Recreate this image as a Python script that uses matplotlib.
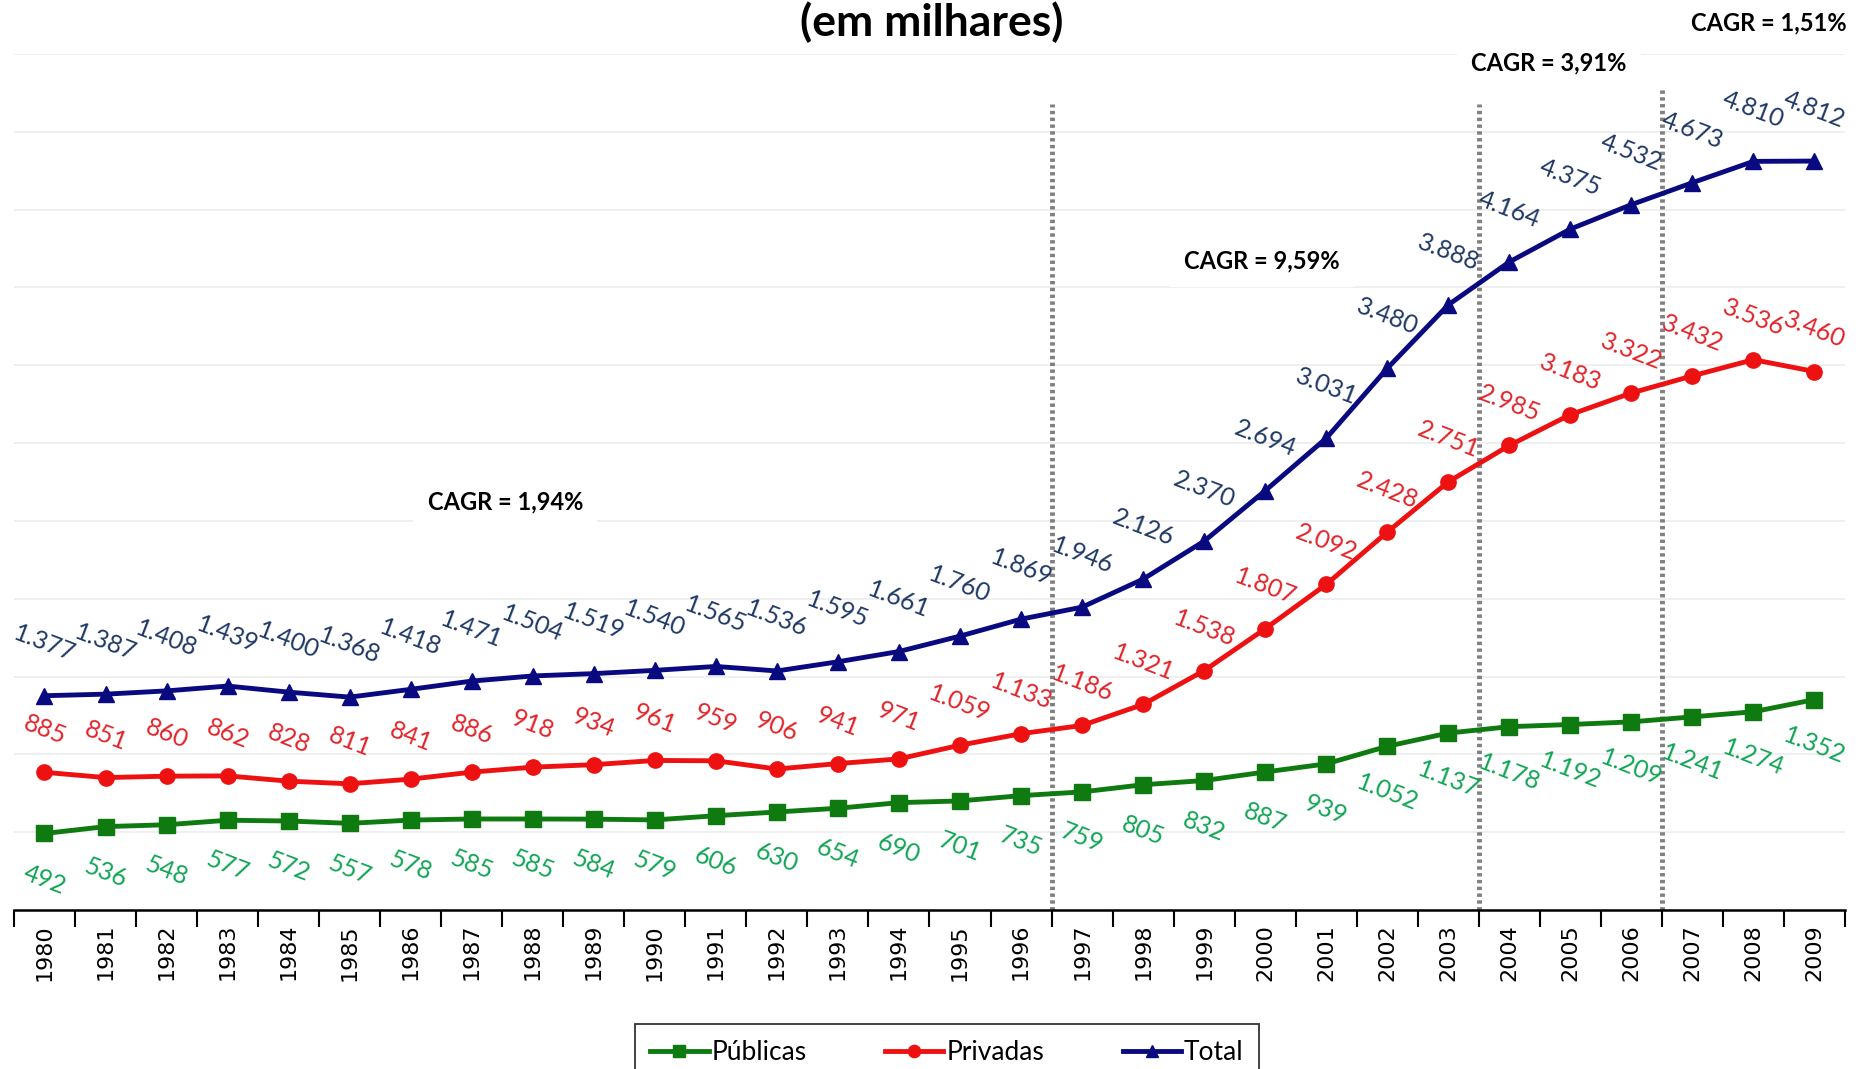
import matplotlib.pyplot as plt

plt.rcParams["font.family"] = ["Lato", "DejaVu Sans"]

anos = list(range(1980, 2010))
publicas = [492, 536, 548, 577, 572, 557, 578, 585, 585, 584, 579, 606, 630, 654, 690,
            701, 735, 759, 805, 832, 887, 939, 1052, 1137, 1178, 1192, 1209, 1241, 1274, 1352]
privadas = [885, 851, 860, 862, 828, 811, 841, 886, 918, 934, 961, 959, 906, 941, 971,
            1059, 1133, 1186, 1321, 1538, 1807, 2092, 2428, 2751, 2985, 3183, 3322, 3432, 3536, 3460]
total = [1377, 1387, 1408, 1439, 1400, 1368, 1418, 1471, 1504, 1519, 1540, 1565, 1536, 1595, 1661,
         1760, 1869, 1946, 2126, 2370, 2694, 3031, 3480, 3888, 4164, 4375, 4532, 4673, 4810, 4812]

# divisões dos períodos (entre anos) e topo das linhas
cortes = [16.5, 23.5, 26.5]
cortes_topo = [5180, 5180, 5290]
cagr_txt = ["CAGR = 1,94%", "CAGR = 9,59%", "CAGR = 3,91%", "CAGR = 1,51%"]
cagr_pos = [(7.55, 2620), (19.95, 4170), (24.65, 5440), (28.25, 5700)]


def fmt(v):
  s = "{:,}".format(v)
  return s.replace(",", ".")


fig = plt.figure(figsize=(18.64, 10.69), dpi=100)
ax = fig.add_axes([0.0075, 0.1487, 0.9823, 0.8008])

x = list(range(len(anos)))

ax.plot(x, publicas, color="#0f7a0f", lw=3.5, marker="s", ms=11, label="Públicas", zorder=3)
ax.plot(x, privadas, color="#ee1111", lw=3.5, marker="o", ms=11, label="Privadas", zorder=3)
ax.plot(x, total, color="#0a0a80", lw=3.5, marker="^", ms=11, label="Total", zorder=3)

series = [(publicas, "#12a555", -46), (privadas, "#e0242a", 42), (total, "#1f3864", 52)]
for vals, cor, dy in series:
  for i, v in enumerate(vals):
    ax.annotate(fmt(v), (i, v), xytext=(0, dy), textcoords="offset pixels",
                ha="center", va="center", rotation=-21, fontsize=18, color=cor,
                zorder=4)

for c, t in zip(cortes, cortes_topo):
  ax.plot([c, c], [0, t], color="#808080", lw=3.5, ls=(0, (0.7, 0.7)), zorder=2,
          clip_on=False)

for txt, (px, py) in zip(cagr_txt, cagr_pos):
  ax.text(px, py, txt, ha="center", va="center", fontsize=17, fontweight="bold",
          color="black", clip_on=False,
          bbox=dict(boxstyle="square,pad=0.6", fc="white", ec="none"), zorder=5)

ax.set_xlim(-0.5, len(anos) - 0.5)
ax.set_ylim(0, 5500)
ax.set_yticks(range(0, 5501, 500))
ax.yaxis.grid(True, color="#ececec", lw=1.2)
ax.set_axisbelow(True)
ax.tick_params(axis="y", left=False, labelleft=False)

ax.set_xticks(x)
ax.set_xticklabels([str(a) for a in anos], rotation=90, fontsize=16,
                   family="DejaVu Sans")
ax.set_xticks([i - 0.5 for i in range(len(anos) + 1)], minor=True)
ax.tick_params(axis="x", which="major", length=0, pad=10)
ax.tick_params(axis="x", which="minor", length=12, width=1.5, direction="out")

for s in ["top", "right", "left"]:
  ax.spines[s].set_visible(False)
ax.spines["bottom"].set_linewidth(1.8)

fig.text(0.5, 0.999, "(em milhares)", ha="center", va="top", fontsize=32,
         fontweight="bold")

leg = ax.legend(loc="upper center", bbox_to_anchor=(0.508, 0.042),
                bbox_transform=fig.transFigure, ncol=3, fontsize=19,
                frameon=True, fancybox=False, edgecolor="black", handlelength=2.2,
                handletextpad=0.1, columnspacing=3.0, borderpad=0.6, markerscale=0.8,
                borderaxespad=0)
leg.get_frame().set_linewidth(1.3)

fig.savefig("out.png", dpi=100)
